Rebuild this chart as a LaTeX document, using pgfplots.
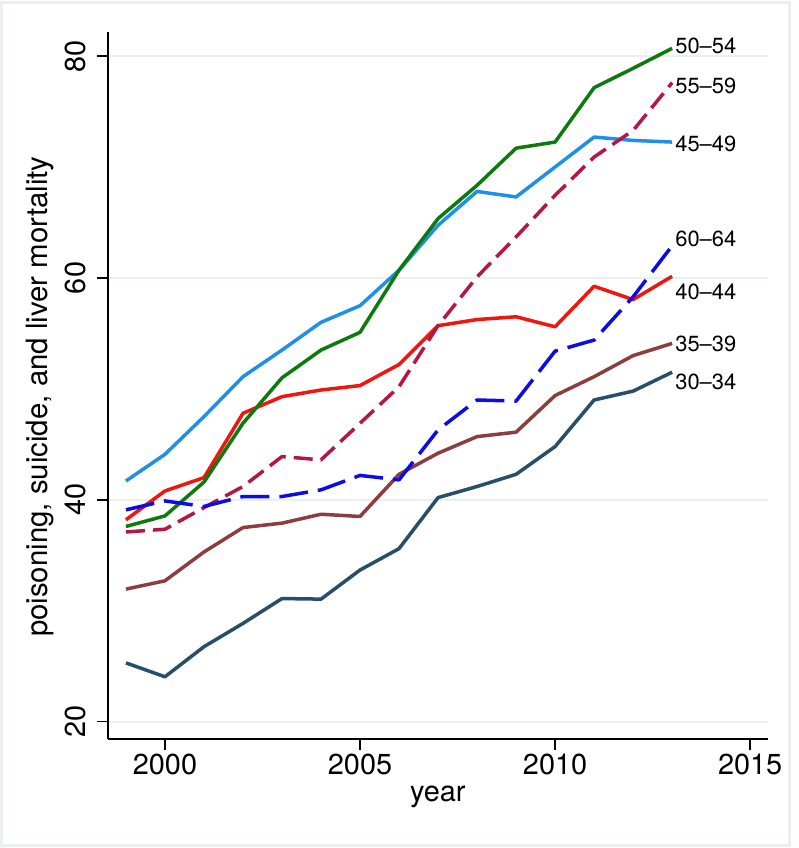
\documentclass[border=0pt]{standalone}
\usepackage{fontspec}
\setmainfont{TeX Gyre Heros}
\usepackage{pgfplots}
\pgfplotsset{compat=1.18}
\definecolor{cA}{RGB}{40,78,104}   % 30-34
\definecolor{cB}{RGB}{140,62,62}   % 35-39
\definecolor{cC}{RGB}{238,22,14}   % 40-44
\definecolor{cD}{RGB}{30,145,230}  % 45-49
\definecolor{cE}{RGB}{14,122,14}   % 50-54
\definecolor{cF}{RGB}{180,22,70}   % 55-59
\definecolor{cG}{RGB}{12,12,230}   % 60-64
\definecolor{gridc}{RGB}{232,240,242}
\definecolor{framec}{RGB}{234,240,242}
\tikzset{lbl/.style={anchor=west, inner sep=0pt, xshift=3bp,
    font=\fontsize{22}{24}\selectfont}}

\begin{document}
\begin{tikzpicture}
\path (-108bp,-109bp) rectangle (691bp,739bp);
\draw[framec, line width=3bp] (-106bp,-106bp) rectangle (681bp,736bp);
\begin{axis}[
  at={(0,0)}, anchor=south west,
  scale only axis, width=659.7bp, height=707.3bp,
  xmin=1998.54, xmax=2015.45, ymin=18.44, ymax=82.2,
  axis x line*=bottom, axis y line*=left,
  axis line style={line width=1.4bp, black},
  xtick={2000,2005,2010,2015}, ytick={20,40,60,80},
  tick align=outside, major tick length=11bp,
  tick style={line width=1.4bp, black},
  ymajorgrids, grid style={gridc, line width=2bp},
  /pgf/number format/assume math mode=true,
  /pgf/number format/set thousands separator={},
  ticklabel style={font=\fontsize{29}{32}\selectfont},
  yticklabel style={rotate=90, anchor=base},
  yticklabel shift=12bp,
  every axis y label/.style={at={(axis description cs:-0.103,0.484)},
    rotate=90, anchor=center, font=\fontsize{29.5}{32}\selectfont},
  every axis x label/.style={at={(axis description cs:0.5,-0.082)},
    anchor=center, font=\fontsize{29}{32}\selectfont},
  xlabel={year},
  ylabel={poisoning, suicide, and liver mortality},
  clip=false,
  every axis plot/.append style={line width=3.5bp, line join=round},
]
% 30-34
\addplot[cA] coordinates {
  (1999,25.3) (2000,24.05) (2001,26.76) (2002,28.86) (2003,31.1) (2004,31.05)
  (2005,33.67) (2006,35.6) (2007,40.2) (2008,41.2) (2009,42.3) (2010,44.8)
  (2011,49.0) (2012,49.8) (2013,51.5)};
% 35-39
\addplot[cB] coordinates {
  (1999,31.95) (2000,32.7) (2001,35.3) (2002,37.5) (2003,37.9) (2004,38.7)
  (2005,38.5) (2006,42.3) (2007,44.2) (2008,45.7) (2009,46.1) (2010,49.4)
  (2011,51.1) (2012,53.0) (2013,54.1)};
% 40-44
\addplot[cC] coordinates {
  (1999,38.2) (2000,40.8) (2001,42.0) (2002,47.8) (2003,49.3) (2004,49.9)
  (2005,50.3) (2006,52.2) (2007,55.7) (2008,56.25) (2009,56.5) (2010,55.6)
  (2011,59.25) (2012,58.05) (2013,60.15)};
% 45-49
\addplot[cD] coordinates {
  (1999,41.7) (2000,44.1) (2001,47.5) (2002,51.1) (2003,53.5) (2004,56.0)
  (2005,57.5) (2006,60.7) (2007,64.75) (2008,67.8) (2009,67.3) (2010,70.0)
  (2011,72.7) (2012,72.4) (2013,72.25)};
% 50-54
\addplot[cE] coordinates {
  (1999,37.6) (2000,38.55) (2001,41.6) (2002,46.9) (2003,51.0) (2004,53.5)
  (2005,55.1) (2006,60.7) (2007,65.35) (2008,68.35) (2009,71.7) (2010,72.25)
  (2011,77.15) (2012,78.9) (2013,80.7)};
% 55-59
\addplot[cF, dash pattern=on 19bp off 8bp] coordinates {
  (1999,37.1) (2000,37.35) (2001,39.3) (2002,41.2) (2003,43.9) (2004,43.6)
  (2005,46.9) (2006,50.2) (2007,55.7) (2008,60.1) (2009,63.7) (2010,67.45)
  (2011,70.9) (2012,73.3) (2013,77.6)};
% 60-64
\addplot[cG, dash pattern=on 29bp off 10bp] coordinates {
  (1999,39.1) (2000,39.9) (2001,39.4) (2002,40.3) (2003,40.3) (2004,40.9)
  (2005,42.2) (2006,41.8) (2007,46.3) (2008,49.0) (2009,48.9) (2010,53.4)
  (2011,54.4) (2012,58.3) (2013,62.9)};

\node[lbl] at (axis cs:2013,80.95) {50–54};
\node[lbl] at (axis cs:2013,77.3) {55–59};
\node[lbl] at (axis cs:2013,72.1) {45–49};
\node[lbl] at (axis cs:2013,63.5) {60–64};
\node[lbl] at (axis cs:2013,58.7) {40–44};
\node[lbl] at (axis cs:2013,54.1) {35–39};
\node[lbl] at (axis cs:2013,50.6) {30–34};
\end{axis}
\end{tikzpicture}
\end{document}
